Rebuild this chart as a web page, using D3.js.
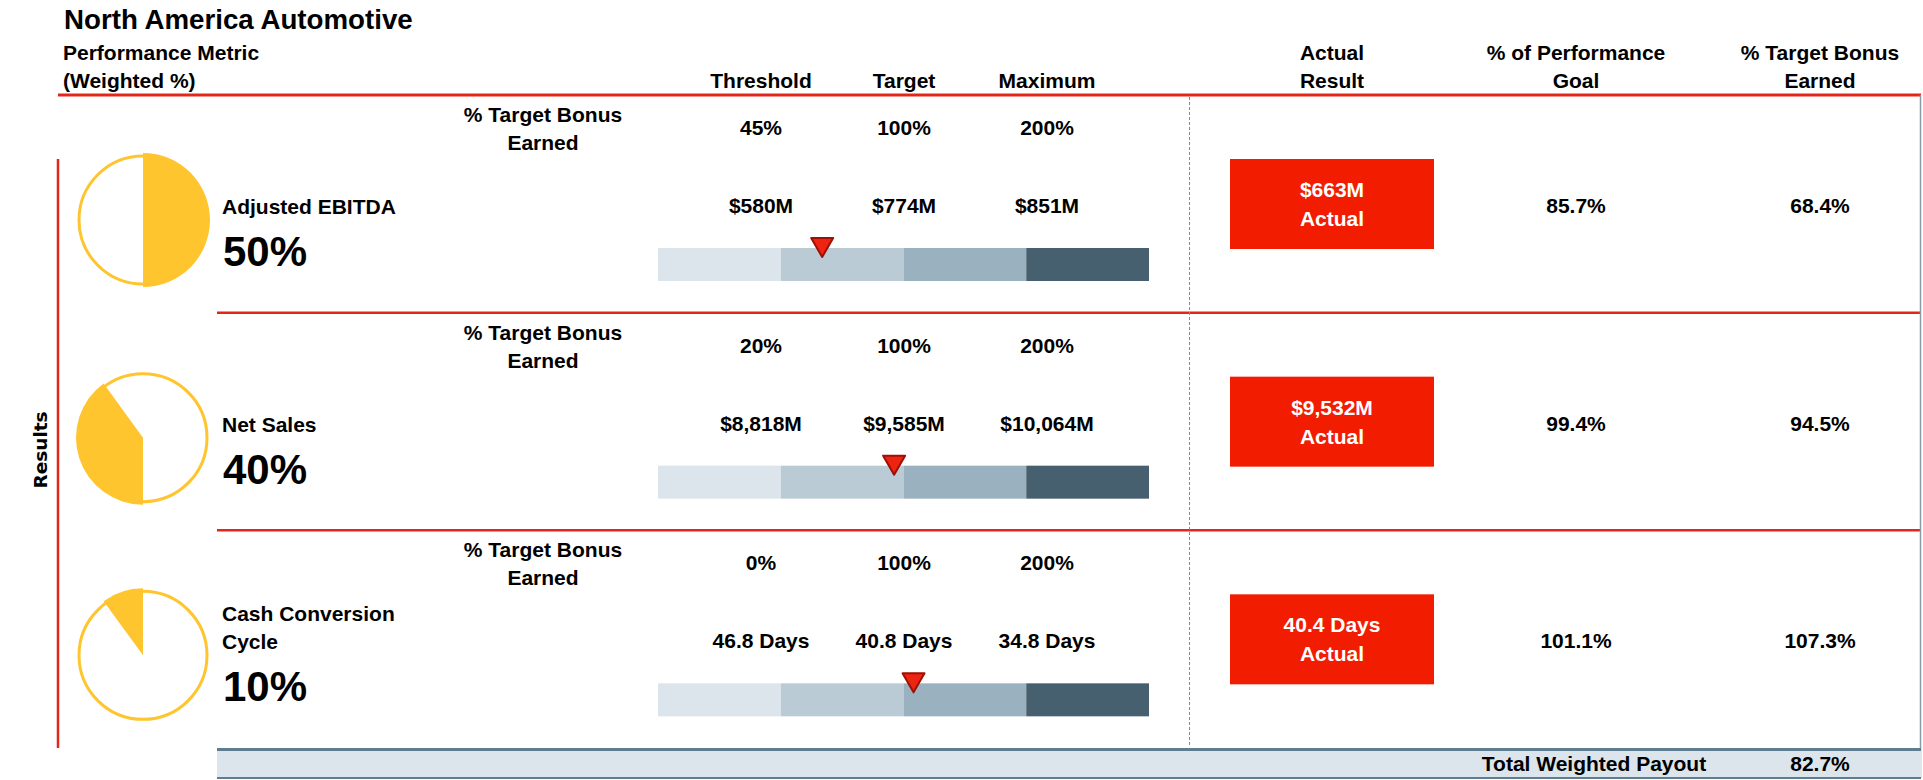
<!DOCTYPE html>
<html>
<head>
<meta charset="utf-8">
<script src="https://cdn.jsdelivr.net/npm/d3@7"></script>
<style>
  body { margin: 0; background: #fff; }
  svg text { font-family: "Liberation Sans", Arial, sans-serif; font-weight: bold; fill: #000; }
</style>
</head>
<body>
<div class="canvas"></div>
<script>
// data
const metricLabels = [["Adjusted EBITDA"], ["Net Sales"], ["Cash Conversion", "Cycle"]];
const weights = [50, 40, 10];
const levels = ["Threshold", "Target", "Maximum"];
const bonusLevels = [[45, 100, 200], [20, 100, 200], [0, 100, 200]];
const goalValues = [[580, 774, 851], [8818, 9585, 10064], [46.8, 40.8, 34.8]];
const actuals = [663, 9532, 40.4];
const pctOfGoal = [85.7, 99.4, 101.1];
const pctBonusEarned = [68.4, 94.5, 107.3];
const totalPayout = 82.7;

// formats per row
const fmtMoney = d => `$${d3.format(",")(d)}M`;
const fmtDays = d => `${d3.format(".1f")(d)} Days`;
const rowFormat = [fmtMoney, fmtMoney, fmtDays];
const fmtPct = d => `${d}%`;

// dimensions
const dims = { width: 1923, height: 780 };
const fs = "21px";
const red = "#E3261A";
const yellow = "#FFC52E";
const segColors = ["#DCE5EB", "#BBCBD5", "#9AB1BF", "#47606F"];

const svg = d3
  .select(".canvas")
  .append("svg")
  .attr("width", dims.width)
  .attr("height", dims.height);

// row positions
const rowY = d3.scaleLinear().domain([0, 3]).range([95, 748]);
// threshold / target / maximum columns
const levelX = d3.scalePoint().domain(levels).range([761, 1047]);
// bar segments
const bar = { x0: 658, x1: 1149, dy: 153, h: 33 };
const segX = d3.scaleLinear().domain([0, 4]).range([bar.x0, bar.x1]);

// title + header
svg.append("text").attr("x", 64).attr("y", 29)
  .style("font-size", "27.7px").text("North America Automotive");

const header = svg.append("g").style("font-size", fs);
header.append("text").attr("x", 63).attr("y", 60).text("Performance Metric");
header.append("text").attr("x", 63).attr("y", 88).text("(Weighted %)");
header.selectAll(".lvl")
  .data(levels)
  .enter()
  .append("text")
  .attr("x", d => levelX(d))
  .attr("y", 88)
  .attr("text-anchor", "middle")
  .text(d => d);

const rightHeads = [
  { x: 1332, lines: ["Actual", "Result"] },
  { x: 1576, lines: ["% of Performance", "Goal"] },
  { x: 1820, lines: ["% Target Bonus", "Earned"] }
];
rightHeads.forEach(h => {
  h.lines.forEach((l, i) => {
    header.append("text").attr("x", h.x).attr("y", 60 + i * 27.5)
      .attr("text-anchor", "middle").text(l);
  });
});

// header red line
svg.append("line").attr("x1", 58).attr("x2", 1921).attr("y1", 95).attr("y2", 95)
  .attr("stroke", red).attr("stroke-width", 3);

// row separators
[1, 2].forEach(i => {
  svg.append("line").attr("x1", 217).attr("x2", 1921)
    .attr("y1", rowY(i)).attr("y2", rowY(i))
    .attr("stroke", red).attr("stroke-width", 2.5);
});

// left red bracket + label
svg.append("line").attr("x1", 58).attr("x2", 58).attr("y1", 159).attr("y2", 748)
  .attr("stroke", red).attr("stroke-width", 2.5);
svg.append("text")
  .attr("transform", "translate(47, 450) rotate(-90)")
  .attr("text-anchor", "middle")
  .style("font-family", "'DejaVu Sans', Verdana, sans-serif")
  .style("font-size", "18.5px")
  .text("Results");

// dotted divider
svg.append("line").attr("x1", 1189.5).attr("x2", 1189.5).attr("y1", 97).attr("y2", 747)
  .attr("stroke", "#7F8A96").attr("stroke-width", 1).attr("stroke-dasharray", "3,2");

// right border
svg.append("line").attr("x1", 1920.5).attr("x2", 1920.5).attr("y1", 95).attr("y2", 778)
  .attr("stroke", "#8A9BA6").attr("stroke-width", 1.5);

// pie slices (one pie split over the rows)
const pie = d3.pie().sort(null).value(d => d);
const arcs = pie(weights);
const arcPath = d3.arc().innerRadius(0).outerRadius(67);

const rows = svg.selectAll(".row")
  .data(weights)
  .enter()
  .append("g")
  .attr("class", "row")
  .attr("transform", (d, i) => `translate(0, ${rowY(i)})`);

rows.each(function(w, i) {
  const g = d3.select(this);
  const pg = g.append("g").attr("transform", "translate(143, 125)");
  pg.append("circle").attr("r", 64).attr("fill", "none")
    .attr("stroke", yellow).attr("stroke-width", 3);
  pg.append("path").attr("d", arcPath(arcs[i])).attr("fill", yellow);

  // metric name + weight
  const lines = metricLabels[i];
  lines.forEach((l, k) => {
    g.append("text").attr("x", 222).attr("y", 119 - (lines.length - 1 - k) * 28)
      .style("font-size", fs).text(l);
  });
  g.append("text").attr("x", 223).attr("y", 171)
    .style("font-size", "42px").text(fmtPct(w));

  // % target bonus label
  ["% Target Bonus", "Earned"].forEach((l, k) => {
    g.append("text").attr("x", 543).attr("y", 27 + k * 28)
      .attr("text-anchor", "middle").style("font-size", fs).text(l);
  });

  // level bonus % and goal values
  g.selectAll(".bl")
    .data(bonusLevels[i])
    .enter()
    .append("text")
    .attr("x", (d, k) => levelX(levels[k]))
    .attr("y", 40)
    .attr("text-anchor", "middle")
    .style("font-size", fs)
    .text(fmtPct);

  g.selectAll(".gv")
    .data(goalValues[i])
    .enter()
    .append("text")
    .attr("x", (d, k) => levelX(levels[k]))
    .attr("y", 118)
    .attr("text-anchor", "middle")
    .style("font-size", fs)
    .text(rowFormat[i]);

  // bar segments
  g.selectAll(".seg")
    .data(segColors)
    .enter()
    .append("rect")
    .attr("x", (d, k) => segX(k))
    .attr("y", bar.dy)
    .attr("width", segX(1) - segX(0))
    .attr("height", bar.h)
    .attr("fill", d => d);

  // marker for actual result
  const mx = d3.scaleLinear()
    .domain(goalValues[i])
    .range(levels.map(l => levelX(l)))(actuals[i]);
  const tip = bar.dy + 9;
  g.append("path")
    .attr("d", `M${mx - 11},${tip - 19} L${mx + 11},${tip - 19} L${mx},${tip} Z`)
    .attr("fill", "#EE2412")
    .attr("stroke", "#9E0F05")
    .attr("stroke-width", 2)
    .attr("stroke-linejoin", "round");

  // actual box
  g.append("rect").attr("x", 1230).attr("y", 64).attr("width", 204).attr("height", 90)
    .attr("fill", "#F21C00");
  [rowFormat[i](actuals[i]), "Actual"].forEach((l, k) => {
    g.append("text").attr("x", 1332).attr("y", 102 + k * 29)
      .attr("text-anchor", "middle").style("font-size", fs)
      .style("fill", "#fff").text(l);
  });

  g.append("text").attr("x", 1576).attr("y", 118).attr("text-anchor", "middle")
    .style("font-size", fs).text(`${pctOfGoal[i].toFixed(1)}%`);
  g.append("text").attr("x", 1820).attr("y", 118).attr("text-anchor", "middle")
    .style("font-size", fs).text(`${pctBonusEarned[i].toFixed(1)}%`);
});

// total band
const band = svg.append("g");
band.append("rect").attr("x", 217).attr("y", 748).attr("width", 1704).attr("height", 30)
  .attr("fill", "#DCE5EB");
band.append("line").attr("x1", 217).attr("x2", 1921).attr("y1", 749.5).attr("y2", 749.5)
  .attr("stroke", "#5E7D90").attr("stroke-width", 3);
band.append("line").attr("x1", 217).attr("x2", 1921).attr("y1", 778).attr("y2", 778)
  .attr("stroke", "#5E7D90").attr("stroke-width", 2);
band.append("text").attr("x", 1594).attr("y", 771).attr("text-anchor", "middle")
  .style("font-size", fs).text("Total Weighted Payout");
band.append("text").attr("x", 1820).attr("y", 771).attr("text-anchor", "middle")
  .style("font-size", fs).text(`${totalPayout}%`);
</script>
</body>
</html>
